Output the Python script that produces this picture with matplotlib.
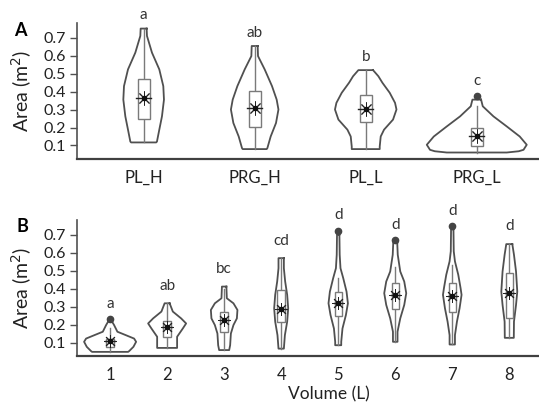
import numpy as np
import matplotlib
matplotlib.use("Agg")
import matplotlib.pyplot as plt

plt.rcParams['font.family'] = ['Lato', 'DejaVu Sans']

# ---- panel A : treatments ----
groups_a = ['PL_H', 'PRG_H', 'PL_L', 'PRG_L']
letters_a = ['a', 'ab', 'b', 'c']
letter_y_a = [0.825, 0.724, 0.592, 0.458]

# violin outline: area levels and half widths (category units)
levels_a = [
    [0.75, 0.709, 0.616, 0.523, 0.43, 0.355, 0.262, 0.188, 0.122, 0.117],
    [0.653, 0.597, 0.523, 0.43, 0.355, 0.30, 0.225, 0.15, 0.085, 0.08],
    [0.519, 0.485, 0.449, 0.393, 0.337, 0.30, 0.244, 0.188, 0.15, 0.094, 0.08],
    [0.355, 0.318, 0.262, 0.206, 0.15, 0.104, 0.076, 0.068, 0.061],
]
halfw_a = [
    [0.027, 0.030, 0.075, 0.141, 0.177, 0.183, 0.165, 0.141, 0.120, 0.113],
    [0.027, 0.030, 0.090, 0.156, 0.198, 0.214, 0.192, 0.144, 0.114, 0.108],
    [0.066, 0.114, 0.150, 0.216, 0.264, 0.277, 0.246, 0.165, 0.135, 0.126, 0.126],
    [0.039, 0.054, 0.150, 0.270, 0.387, 0.450, 0.421, 0.378, 0.270],
]
q1_a = [0.247, 0.203, 0.233, 0.098]
q3_a = [0.467, 0.402, 0.378, 0.200]
mean_a = [0.365, 0.310, 0.303, 0.150]
whisk_lo_a = [0.117, 0.08, 0.08, 0.061]
whisk_hi_a = [0.75, 0.653, 0.519, 0.32]
out_x_a = [3]
out_y_a = [0.374]

# ---- panel B : volume ----
groups_b = ['1', '2', '3', '4', '5', '6', '7', '8']
letters_b = ['a', 'ab', 'bc', 'cd', 'd', 'd', 'd', 'd']
letter_y_b = [0.315, 0.415, 0.508, 0.663, 0.81, 0.756, 0.83, 0.75]

levels_b = [
    [0.216, 0.197, 0.16, 0.141, 0.122, 0.104, 0.076, 0.052, 0.048],
    [0.318, 0.272, 0.234, 0.206, 0.178, 0.132, 0.094, 0.07],
    [0.411, 0.346, 0.318, 0.281, 0.234, 0.197, 0.15, 0.085, 0.058],
    [0.569, 0.513, 0.439, 0.365, 0.29, 0.216, 0.141, 0.066],
    [0.70, 0.588, 0.513, 0.458, 0.383, 0.318, 0.253, 0.178, 0.104, 0.085],
    [0.655, 0.588, 0.495, 0.439, 0.374, 0.309, 0.234, 0.16, 0.104],
    [0.73, 0.607, 0.551, 0.477, 0.402, 0.365, 0.29, 0.216, 0.141, 0.089],
    [0.647, 0.588, 0.495, 0.383, 0.309, 0.216, 0.126],
]
halfw_b = [
    [0.035, 0.070, 0.128, 0.275, 0.421, 0.456, 0.409, 0.333, 0.316],
    [0.044, 0.100, 0.246, 0.333, 0.275, 0.175, 0.175, 0.175],
    [0.039, 0.047, 0.163, 0.233, 0.223, 0.163, 0.118, 0.105, 0.088],
    [0.047, 0.047, 0.070, 0.105, 0.123, 0.105, 0.065, 0.047],
    [0.021, 0.026, 0.040, 0.088, 0.146, 0.170, 0.135, 0.075, 0.053, 0.053],
    [0.035, 0.044, 0.088, 0.158, 0.193, 0.158, 0.088, 0.040, 0.040],
    [0.021, 0.026, 0.047, 0.105, 0.146, 0.163, 0.128, 0.082, 0.047, 0.047],
    [0.053, 0.082, 0.118, 0.140, 0.118, 0.082, 0.079],
]
q1_b = [0.076, 0.132, 0.160, 0.216, 0.247, 0.284, 0.272, 0.234]
q3_b = [0.120, 0.220, 0.272, 0.393, 0.383, 0.433, 0.430, 0.485]
mean_b = [0.110, 0.185, 0.225, 0.287, 0.318, 0.365, 0.361, 0.374]
whisk_lo_b = [0.048, 0.07, 0.058, 0.066, 0.085, 0.104, 0.089, 0.126]
whisk_hi_b = [0.18, 0.318, 0.40, 0.569, 0.456, 0.52, 0.53, 0.647]
out_x_b = [0, 4, 5, 6]
out_y_b = [0.23, 0.718, 0.668, 0.746]

line_col = '#505050'
box_col = '#7a7a7a'


def draw_panel(ax, labels, levels, halfw, q1, q3, mean, wlo, whi, ox, oy,
               letters, letter_y, box_hw, xlim, star_ms):
    for i in range(len(labels)):
        y = np.array(levels[i])
        w = np.array(halfw[i])
        xs = np.concatenate([i + w, (i - w)[::-1], [i + w[0]]])
        ys = np.concatenate([y, y[::-1], [y[0]]])
        ax.fill(xs, ys, facecolor='white', edgecolor='none', zorder=1)
        ax.plot(xs, ys, color=line_col, lw=1.3, solid_joinstyle='round', zorder=2)
        ax.plot([i, i], [wlo[i], whi[i]], color=box_col, lw=1.0, zorder=3)
        ax.add_patch(plt.Rectangle((i - box_hw, q1[i]), 2 * box_hw, q3[i] - q1[i],
                                   facecolor='white', edgecolor=box_col, lw=1.0, zorder=4))
        ax.plot(i, mean[i], marker=(8, 2, 0), ms=star_ms, color='#222222', mew=0.7, zorder=5)
        ax.plot([i - box_hw * 1.25, i + box_hw * 1.25], [mean[i], mean[i]],
                color='#222222', lw=1.0, zorder=5)
        ax.plot(i, mean[i], 'o', ms=3, color='#111111', zorder=6)
        ax.text(i, letter_y[i], letters[i], ha='center', va='center', fontsize=11,
                color='#333333', clip_on=False)
    ax.plot(ox, oy, 'o', ms=4.5, color='#444444', zorder=6)

    ax.set_xlim(*xlim)
    ax.set_ylim(0.025, 0.78)
    ax.set_xticks(range(len(labels)))
    ax.set_xticklabels(labels, fontsize=12, color='#222222')
    ax.set_yticks([0.1, 0.2, 0.3, 0.4, 0.5, 0.6, 0.7])
    ax.set_yticklabels(['0.1', '0.2', '0.3', '0.4', '0.5', '0.6', '0.7'],
                       fontsize=11.5, color='#222222')
    ax.tick_params(axis='x', length=0, pad=8)
    ax.tick_params(axis='y', length=5, width=1, color=line_col, pad=3)
    ax.spines['top'].set_visible(False)
    ax.spines['right'].set_visible(False)
    ax.spines['left'].set_color(line_col)
    ax.spines['left'].set_linewidth(1.2)
    ax.spines['bottom'].set_color('#404040')
    ax.spines['bottom'].set_linewidth(1.6)
    ax.set_ylabel('Area (m$^2$)', fontsize=14, color='#222222', va='center')
    ax.yaxis.set_label_coords(-0.119, 0.5)


fig = plt.figure(figsize=(5.39, 4.03), dpi=100)
ax_a = fig.add_axes([0.1429, 0.6055, 0.857, 0.337])
ax_b = fig.add_axes([0.1429, 0.1166, 0.857, 0.337])

draw_panel(ax_a, groups_a, levels_a, halfw_a, q1_a, q3_a, mean_a, whisk_lo_a, whisk_hi_a,
           out_x_a, out_y_a, letters_a, letter_y_a, 0.054, (-0.6, 3.56), 10)
draw_panel(ax_b, groups_b, levels_b, halfw_b, q1_b, q3_b, mean_b, whisk_lo_b, whisk_hi_b,
           out_x_b, out_y_b, letters_b, letter_y_b, 0.065, (-0.58, 7.52), 9)
ax_b.set_xlabel('Volume (L)', fontsize=12.5, color='#222222', va='center')
ax_b.xaxis.set_label_coords((329 - 77) / 462, -0.283)

fig.text(0.037, 0.925, 'A', fontsize=13, fontweight='bold', ha='center', va='center')
fig.text(0.041, 0.437, 'B', fontsize=13, fontweight='bold', ha='center', va='center')

fig.savefig('out.png', dpi=100)
